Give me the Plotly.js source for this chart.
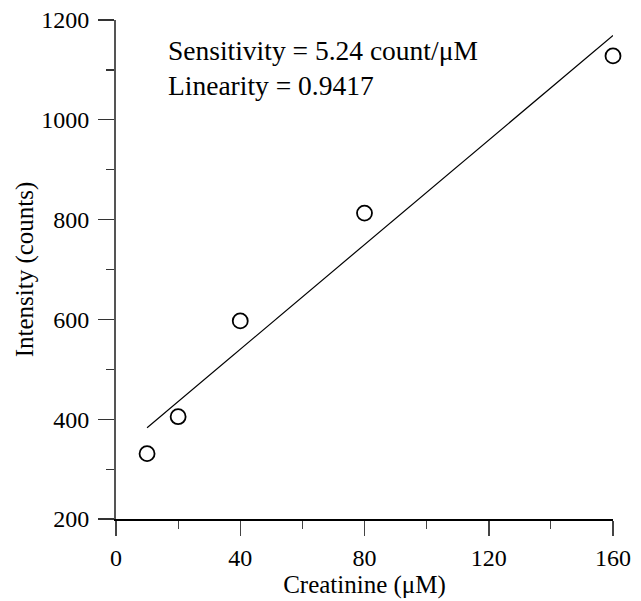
<!DOCTYPE html>
<html>
<head>
<meta charset="utf-8">
<script src="https://cdn.plot.ly/plotly-3.0.1.min.js"></script>
<style>html,body{margin:0;padding:0;background:#fff;}#chart{width:641px;height:601px;}</style>
</head>
<body>
<div id="chart"></div>
<script>
// Measured data
const concentration = [10, 20, 40, 80, 160];
const intensity = [331, 405, 597, 813, 1128];
// Fitted line (as printed on the figure)
const fitX = [10, 160];
const fitY = [383, 1169];
const xTicks = [0, 40, 80, 120, 160];
const yTicks = [200, 400, 600, 800, 1000, 1200];
const annotationLines = ["Sensitivity = 5.24 count/\u03bcM", "Linearity = 0.9417"];

const FONT = "Liberation Serif, Times New Roman, serif";

const traces = [
  {
    x: fitX, y: fitY, mode: "lines", type: "scatter",
    line: {color: "#000", width: 1.2}, hoverinfo: "skip", showlegend: false, cliponaxis: false
  },
  {
    x: concentration, y: intensity, mode: "markers", type: "scatter",
    marker: {symbol: "circle-open", size: 15, color: "#000", line: {width: 1.8, color: "#000"}},
    showlegend: false, cliponaxis: false
  }
];

const layout = {
  width: 641, height: 601,
  margin: {l: 116, r: 28, t: 20, b: 82},
  paper_bgcolor: "#fff", plot_bgcolor: "#fff",
  font: {family: FONT, size: 24, color: "#000"},
  xaxis: {
    range: [0, 160], tickvals: xTicks, ticktext: xTicks.map(String),
    showgrid: false, zeroline: false, showline: true, linecolor: "#000", linewidth: 1.5,
    ticks: "outside", ticklen: 15, tickwidth: 1.5, tickcolor: "#444",
    minor: {dtick: 20, tick0: 0, ticks: "outside", ticklen: 8, tickwidth: 1.2, tickcolor: "#444", showgrid: false},
    title: {text: "Creatinine (\u03bcM)", font: {family: FONT, size: 25}, standoff: 4},
    tickfont: {family: FONT, size: 24},
    ticklabelstandoff: 2
  },
  yaxis: {
    range: [200, 1200], tickvals: yTicks, ticktext: yTicks.map(String),
    showgrid: false, zeroline: false, showline: true, linecolor: "#555", linewidth: 2,
    ticks: "outside", ticklen: 16, tickwidth: 1.3, tickcolor: "#333",
    minor: {dtick: 100, tick0: 200, ticks: "outside", ticklen: 8, tickwidth: 1.2, tickcolor: "#333", showgrid: false},
    title: {text: "Intensity (counts)", font: {family: FONT, size: 25}, standoff: 0},
    tickfont: {family: FONT, size: 24},
    ticklabelstandoff: 4
  },
  annotations: annotationLines.map((t, i) => ({
    text: t, xref: "paper", yref: "paper", x: (166 - 116) / 497, y: 1 - ((51 + i * 34) - 20) / 499,
    xanchor: "left", yanchor: "middle", showarrow: false,
    font: {family: FONT, size: 27.5, color: "#000"}
  }))
};

Plotly.newPlot("chart", traces, layout, {displayModeBar: false, staticPlot: true});
</script>
</body>
</html>
